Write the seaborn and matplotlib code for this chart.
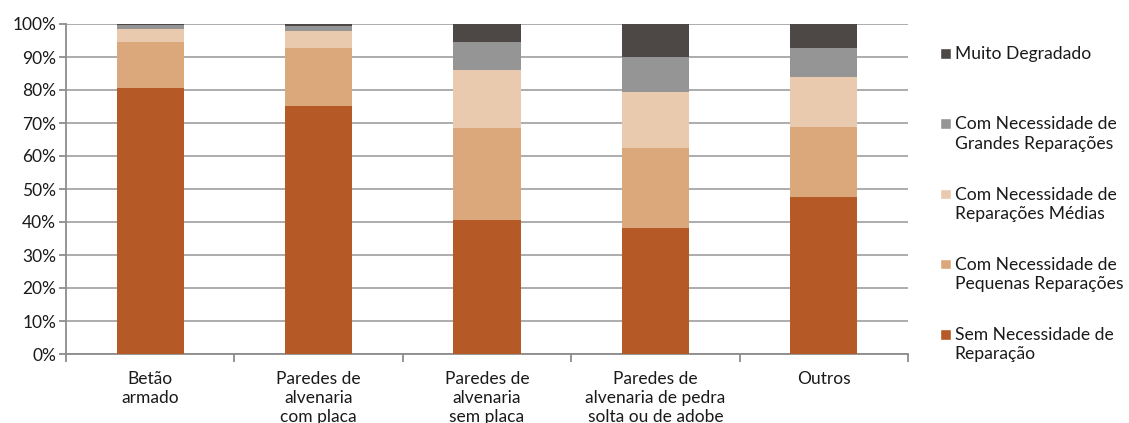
import matplotlib
matplotlib.use("Agg")
import matplotlib.pyplot as plt
import numpy as np
import pandas as pd
import seaborn as sns
from matplotlib.patches import Patch, Rectangle
from matplotlib.legend_handler import HandlerPatch
from matplotlib.ticker import PercentFormatter, FixedLocator

categories = ["Betão\narmado", "Paredes de\nalvenaria\ncom placa", "Paredes de\nalvenaria\nsem placa",
              "Paredes de\nalvenaria de pedra\nsolta ou de adobe", "Outros"]
series_names = ["Sem Necessidade de\nReparação", "Com Necessidade de\nPequenas Reparações",
                "Com Necessidade de\nReparações Médias", "Com Necessidade de\nGrandes Reparações",
                "Muito Degradado\n"]
sem_reparacao = [80.7, 75.2, 40.5, 38.2, 47.5]
pequenas = [13.9, 17.6, 28.1, 24.2, 21.4]
medias = [3.9, 5.2, 17.4, 16.9, 15.1]
grandes = [1.1, 1.5, 8.6, 10.8, 8.8]
muito_degradado = [0.4, 0.5, 5.4, 9.9, 7.2]
colors = ["#B55A27", "#DAA87B", "#E9CAAF", "#959595", "#4D4846"]

sns.set_theme(style="white")
plt.rcParams["font.family"] = ["Lato", "DejaVu Sans"]

series = [sem_reparacao, pequenas, medias, grandes, muito_degradado]
cum = np.cumsum(np.array(series), axis=0)

fig = plt.figure(figsize=(11.29, 4.23), dpi=100)
ax = fig.add_axes([66 / 1129, 1 - 354 / 423, (908 - 66) / 1129, (354 - 24) / 423])

# stacked bars: draw cumulative totals from the top segment down
for i in range(len(series) - 1, -1, -1):
    df = pd.DataFrame({"cat": categories, "val": cum[i]})
    sns.barplot(data=df, x="cat", y="val", color=colors[i], width=0.4,
                saturation=1, linewidth=0, edgecolor="none", ax=ax, zorder=3)

ax.set_xlim(-0.5, 4.5)
ax.set_ylim(0, 100)
ax.set_yticks(np.arange(0, 101, 10))
ax.yaxis.set_major_formatter(PercentFormatter(decimals=0))
ax.grid(axis="y", color="#A6A6A6", linewidth=1.3, zorder=0)
ax.set_axisbelow(True)
ax.set_xlabel("")
ax.set_ylabel("")
for s in ["top", "right"]:
    ax.spines[s].set_visible(False)
for s in ["left", "bottom"]:
    ax.spines[s].set_color("#8C8C8C")
    ax.spines[s].set_linewidth(1.3)

ax.tick_params(axis="y", which="major", length=5, width=1.3, color="#8C8C8C",
               labelsize=12.5, labelcolor="#1a1a1a", pad=2, left=True)
ax.tick_params(axis="x", which="major", length=0, labelsize=12.5, labelcolor="#1a1a1a", pad=12)
ax.xaxis.set_minor_locator(FixedLocator(np.arange(-0.5, 5.0, 1.0)))
ax.tick_params(axis="x", which="minor", length=6, width=1.3, color="#8C8C8C", bottom=True)
for lbl in ax.get_xticklabels():
    lbl.set_linespacing(1.25)


def first_line_square(legend, orig_handle, xdescent, ydescent, width, height, fontsize):
    # square marker sitting beside the first line of a two-line label
    side = 0.6 * fontsize
    return Rectangle((-xdescent, -ydescent + 0.62 * fontsize), side, side)


handler = HandlerPatch(patch_func=first_line_square)
handles = [Patch(facecolor=colors[i], label=series_names[i]) for i in range(4, -1, -1)]
leg = fig.legend(handles=handles, loc="upper left", bbox_to_anchor=(933 / 1129, 1 - 39 / 423),
                 frameon=False, fontsize=12.6, handlelength=0.6, handleheight=0.6,
                 handletextpad=0.25, labelspacing=2.0, borderaxespad=0,
                 handler_map={Patch: handler})
for t in leg.get_texts():
    t.set_color("#1a1a1a")
    t.set_linespacing(1.25)

fig.savefig("out.png", dpi=100)
